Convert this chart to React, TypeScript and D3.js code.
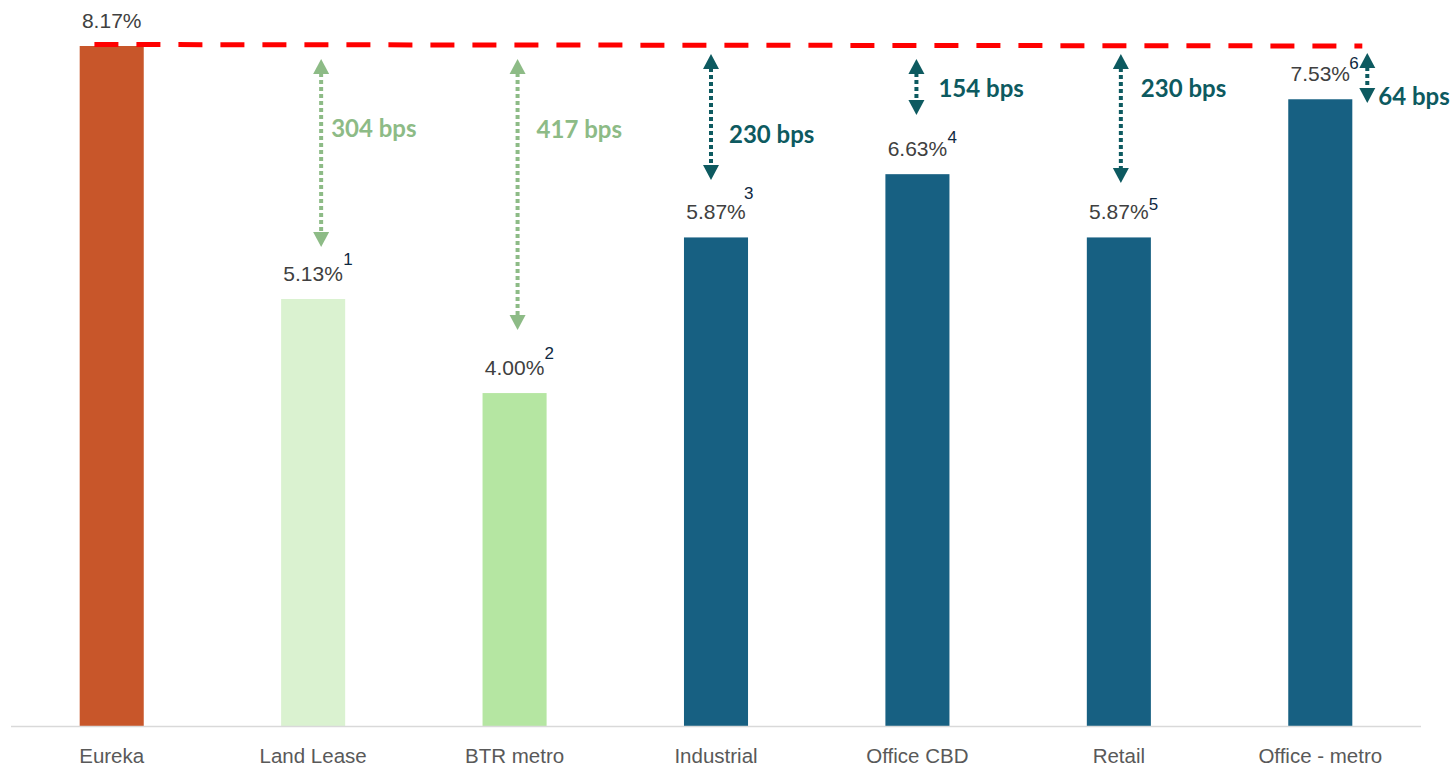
import React from "react";
import * as d3 from "d3";

const categories = ["Eureka", "Land Lease", "BTR metro", "Industrial", "Office CBD", "Retail", "Office - metro"];
const yields = [8.17, 5.13, 4.0, 5.87, 6.63, 5.87, 7.53];
const footnotes = ["", "1", "2", "3", "4", "5", "6"];
const barColors = ["#C8562A", "#DAF2D0", "#B5E6A2", "#176082", "#176082", "#176082", "#176082"];
const arrowGroups = ["", "green", "green", "teal", "teal", "teal", "teal"];
// annotation layout: arrow bottom end (in % units), arrow x offset, label x offset, label baseline (in % units)
const arrowEnds = [0, 5.755, 4.758, 6.56, 7.34, 6.524, 7.485];
const arrowDx = [0, 8, 3, -5, -1, 2, 47];
const labelDx = [0, 18, 22, 13, 21, 22, 58];
const labelVals = [0, 7.08, 7.066, 7.006, 7.56, 7.56, 7.46];
const supDy = [0, -16, -16, -20, -13, -9, -12];
const supDx = [0, 0, 0, -2, 0, 0, -1];

const W = 1450;
const H = 767;

export default function App() {
  const x = d3.scaleBand<string>().domain(categories).range([11, 1421]).paddingInner(0.682).paddingOuter(0.341);
  const y = d3.scaleLinear().domain([0, 8.17]).range([726, 46]);
  const bw = x.bandwidth();
  const ref = yields[0];
  const arrowColor: Record<string, string> = { green: "#8DBB86", teal: "#0D5A60" };

  const lineX0 = (x(categories[0]) as number) + bw * 0.23;
  const lineX1 = (x(categories[categories.length - 1]) as number) + bw + 10;

  const head = (cx: number, tipY: number, dir: number) => {
    const p = d3.path();
    p.moveTo(cx, tipY);
    p.lineTo(cx - 8, tipY + dir * 15);
    p.lineTo(cx + 8, tipY + dir * 15);
    p.closePath();
    return p.toString();
  };

  return (
    <svg width={W} height={H} style={{ position: "absolute", left: 0, top: 0 }} fontFamily="'Liberation Sans', Arial, sans-serif">
      <rect width={W} height={H} fill="#ffffff" />
      {categories.map((c, i) => (
        <rect key={c} x={x(c)} y={y(yields[i])} width={bw} height={y(0) - y(yields[i])} fill={barColors[i]} />
      ))}
      <line x1={11} x2={1421} y1={y(0) + 0.5} y2={y(0) + 0.5} stroke="#D9D9D9" strokeWidth={1.5} />
      {categories.map((c) => (
        <text key={"c" + c} x={(x(c) as number) + bw / 2} y={763} textAnchor="middle" fontSize={20.5} fill="#595959">
          {c}
        </text>
      ))}
      {categories.map((c, i) => {
        const cx = (x(c) as number) + bw / 2;
        const by = y(yields[i]) - 18;
        const txt = yields[i].toFixed(2) + "%";
        return (
          <g key={"v" + c}>
            <text x={cx} y={by} textAnchor="middle" fontSize={21} fill="#404040">
              {txt}
            </text>
            {footnotes[i] && (
              <text x={cx + 30 + supDx[i]} y={by + supDy[i]} fontSize={17} fill="#0E2841">
                {footnotes[i]}
              </text>
            )}
          </g>
        );
      })}
      <line
        x1={lineX0}
        x2={lineX1}
        y1={y(ref) - 1.5}
        y2={y(ref)}
        stroke="#FF0000"
        strokeWidth={5}
        strokeDasharray="24 18"
      />
      {categories.map((c, i) => {
        if (!arrowGroups[i]) return null;
        const col = arrowColor[arrowGroups[i]];
        const ax = (x(c) as number) + bw / 2 + arrowDx[i];
        const top = y(ref) + (i === 6 ? 7 : i >= 3 && i !== 4 ? 8 : 13);
        const bot = y(arrowEnds[i]);
        const bps = Math.round((ref - yields[i]) * 100);
        return (
          <g key={"a" + c}>
            <line x1={ax} x2={ax} y1={top + 14} y2={bot - 14} stroke={col} strokeWidth={4} strokeDasharray="4 3" />
            <path d={head(ax, top, 1)} fill={col} />
            <path d={head(ax, bot, -1)} fill={col} />
            <text
              x={(x(c) as number) + bw / 2 + labelDx[i]}
              y={y(labelVals[i])}
              fontFamily="Lato, 'Open Sans', sans-serif"
              fontWeight={700}
              fontSize={24}
              fill={col}
            >
              {bps} bps
            </text>
          </g>
        );
      })}
    </svg>
  );
}
